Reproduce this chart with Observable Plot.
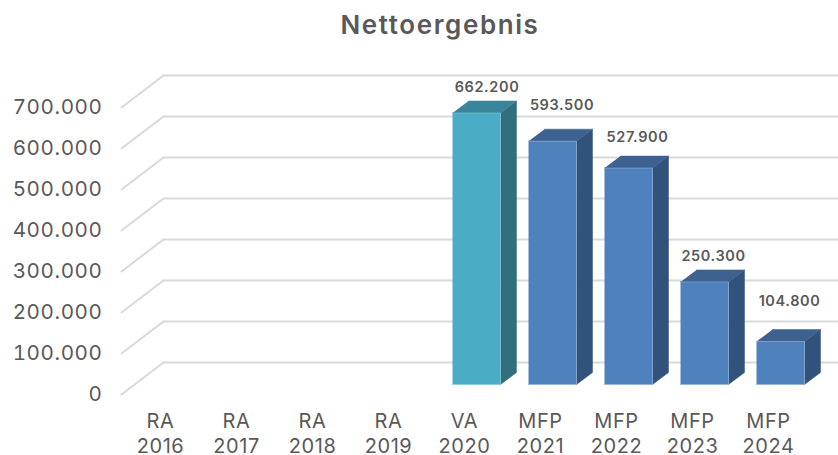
<!DOCTYPE html>
<html><head><meta charset="utf-8">
<script src="https://cdn.jsdelivr.net/npm/d3@7"></script>
<script src="https://cdn.jsdelivr.net/npm/@observablehq/plot@0.6"></script>
<style>
html,body{margin:0;padding:0;background:#fff;overflow:hidden}
#title{height:50px;width:880px;text-align:center;font:600 26px/50px Inter,sans-serif;color:#595959;letter-spacing:1.6px}
svg{display:block}
svg text{letter-spacing:.6px}
</style></head><body>
<div id="title">Nettoergebnis</div>
<div id="chart"></div>
<script>
const categories = ["RA\n2016","RA\n2017","RA\n2018","RA\n2019","VA\n2020","MFP\n2021","MFP\n2022","MFP\n2023","MFP\n2024"];
const values = [null,null,null,null,662200,593500,527900,250300,104800];
const yTicks = [0,100000,200000,300000,400000,500000,600000,700000];
const actualColor = {front:"#4BACC6",side:"#316F7F",top:"#3A8599",edge:"#86C8DB"};
const planColor = {front:"#4F81BD",side:"#31527B",top:"#3D628F",edge:"#8DACD3"};

// depth conversions in data units (1 category = 76px, 100 000 = 41px)
const px = p => p/76, py = p => p*100000/41;
const fmt = v => d3.format(",")(v).replace(/,/g,".");
const bars = values.map((v,i)=>({i,v,c:i===4?actualColor:planColor})).filter(d=>d.v!=null);
const cx = d => d.i + px(12), hw = px(24), dX = px(16), dY = py(12);

const frontFaces = bars.flatMap(d=>[[-1,0],[1,0],[1,d.v],[-1,d.v]].map(([s,v])=>({x:cx(d)+s*hw,y:v,k:d.i,f:d.c.front,e:d.c.edge})));
const sideFaces = bars.flatMap(d=>[[0,0],[1,0],[1,d.v],[0,d.v]].map(([s,v])=>({x:cx(d)+hw+s*dX,y:v+s*dY,k:d.i,f:d.c.side})));
const topFaces = bars.flatMap(d=>[[-1,0],[1,0],[1,1],[-1,1]].map(([s,t])=>({x:cx(d)+s*hw+t*dX,y:d.v+t*dY,k:d.i,f:d.c.top})));
const slant = yTicks.flatMap(v=>[{x:-0.5+px(-1),y:v-py(10),k:v},{x:-0.5+px(41),y:v+py(22),k:v}]);
const back = yTicks.flatMap(v=>[{x:-0.5+px(41),y:v+py(22),k:v},{x:8.5+px(70),y:v+py(22),k:v}]);
const lift = {4:[10.5,-14],5:[9.5,-24],6:[9,-19],7:[9,-14],8:[9,-28]};

const chart = Plot.plot({
  width:838,height:405,
  marginLeft:121,marginRight:0,marginTop:0,marginBottom:20,
  style:{fontFamily:"Inter, sans-serif",background:"#fff",overflow:"visible"},
  x:{type:"linear",domain:[0,8],range:[160,768],axis:null},
  y:{type:"linear",domain:[0,700000],range:[334,47],axis:null},
  marks:[
    Plot.line(slant,{x:"x",y:"y",z:"k",stroke:"#D9D9D9",strokeWidth:2}),
    Plot.line(back,{x:"x",y:"y",z:"k",stroke:"#D9D9D9",strokeWidth:2}),
    Plot.axisY({ticks:yTicks,tickSize:0,tickPadding:19,dy:10,tickFormat:fmt,label:null,fontSize:20.6,fill:"#595959",anchor:"left"}),
    Plot.line(sideFaces,{x:"x",y:"y",z:"k",fill:"f",stroke:"f",strokeWidth:0.5}),
    Plot.line(topFaces,{x:"x",y:"y",z:"k",fill:"f",stroke:"f",strokeWidth:0.5}),
    Plot.line(frontFaces,{x:"x",y:"y",z:"k",fill:"f",stroke:"e",strokeWidth:0.6}),
    ...bars.map(d=>Plot.text([d],{x:e=>cx(e)+px(lift[e.i][0]),y:e=>e.v+dY,text:e=>fmt(e.v),dy:lift[d.i][1],fontSize:14.5,fontWeight:600,fill:"#595959"})),
    Plot.text(categories,{x:(d,i)=>i,y:()=>0,text:d=>d,dy:48,lineHeight:1.25,fontSize:20,fill:"#595959"})
  ]
});
document.getElementById("chart").append(chart);
</script>
</body></html>
